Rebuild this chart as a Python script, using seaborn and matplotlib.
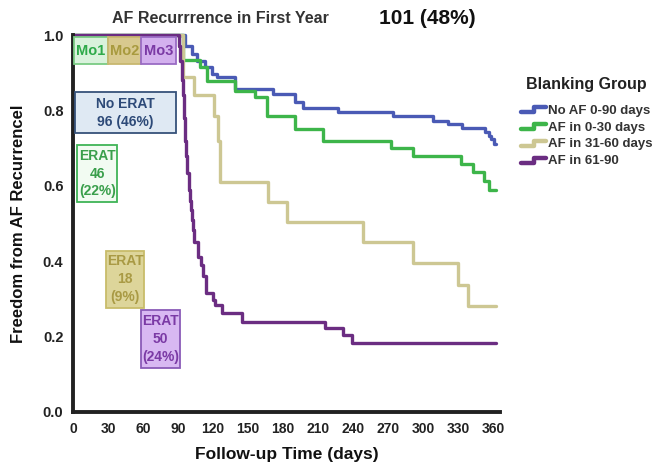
import numpy as np
import pandas as pd
import seaborn as sns
import matplotlib
matplotlib.use('Agg')
import matplotlib.pyplot as plt
from matplotlib.patches import Rectangle
from matplotlib.lines import Line2D
from matplotlib.legend_handler import HandlerBase

# Kaplan-Meier style step data (day, freedom from AF)
groups = ['No AF 0-90 days', 'AF in 0-30 days', 'AF in 31-60 days', 'AF in 61-90']
colors = ['#4a5ab5', '#3db54a', '#cdc793', '#6b2d82']

blue_days = [0, 96, 102, 106, 113, 119, 123, 139, 171, 190, 197, 227, 274, 308, 321, 333, 353, 356, 358, 361, 362]
blue_vals = [1.0, 0.971, 0.949, 0.931, 0.915, 0.896, 0.888, 0.856, 0.843, 0.822, 0.806, 0.795, 0.785, 0.771,
             0.763, 0.753, 0.742, 0.731, 0.723, 0.71, 0.71]

green_days = [0, 94, 109, 115, 139, 156, 166, 190, 214, 272, 291, 332, 343, 352, 356, 362]
green_vals = [1.0, 0.935, 0.915, 0.877, 0.851, 0.835, 0.785, 0.75, 0.72, 0.70, 0.678, 0.657, 0.636, 0.612,
              0.59, 0.59]

tan_days = [0, 94, 104, 121, 124, 126, 167, 183, 248, 291, 330, 338, 362]
tan_vals = [1.0, 0.89, 0.84, 0.785, 0.72, 0.61, 0.556, 0.505, 0.45, 0.394, 0.338, 0.28, 0.28]

purple_days = [0, 91, 92, 93, 94, 95, 96, 97, 98, 99, 100, 101, 102, 103, 104, 107, 110, 111, 114, 120,
               122, 128, 145, 216, 231, 239, 362]
purple_vals = [1.0, 0.97, 0.93, 0.88, 0.84, 0.78, 0.72, 0.68, 0.635, 0.59, 0.56, 0.537, 0.51, 0.484, 0.45,
               0.412, 0.39, 0.36, 0.316, 0.298, 0.285, 0.263, 0.239, 0.223, 0.205, 0.184, 0.184]

x_ticks = [0, 30, 60, 90, 120, 150, 180, 210, 240, 270, 300, 330, 360]
y_ticks = [0.0, 0.2, 0.4, 0.6, 0.8, 1.0]

df = pd.concat([
    pd.DataFrame({'day': d, 'freedom': v, 'group': g})
    for d, v, g in zip([blue_days, green_days, tan_days, purple_days],
                       [blue_vals, green_vals, tan_vals, purple_vals], groups)
], ignore_index=True)

sns.set_style('white')
plt.rcParams['font.family'] = ['Liberation Sans', 'DejaVu Sans']
plt.rcParams['font.weight'] = 'bold'

fig = plt.figure(figsize=(6.59, 4.74), dpi=100)
ax = fig.add_axes([0.111, 0.131, 0.648, 0.795])

sns.lineplot(data=df, x='day', y='freedom', hue='group', hue_order=groups,
             palette=dict(zip(groups, colors)), drawstyle='steps-post',
             estimator=None, linewidth=2.4, legend=False, ax=ax, clip_on=False)

ax.set_xlim(0, 366)
ax.set_ylim(0, 1.0)
ax.set_xticks(x_ticks)
ax.set_yticks(y_ticks)
ax.set_yticklabels([f'{t:.1f}' for t in y_ticks])
ax.tick_params(axis='x', labelsize=10, length=5, width=1.2, color='#333', pad=2)
ax.tick_params(axis='y', labelsize=10.5, length=5, width=1.2, color='#333', pad=2)
for lab in ax.get_xticklabels() + ax.get_yticklabels():
    lab.set_fontweight('bold')
    lab.set_color('#222')

sns.despine(ax=ax)
for side in ['left', 'bottom']:
    ax.spines[side].set_linewidth(2.8)
    ax.spines[side].set_color('#222')

ax.set_xlabel('Follow-up Time (days)', fontsize=12.5, fontweight='bold', color='#111', labelpad=8)
ax.set_ylabel('Freedom from AF Recurrencel', fontsize=12, fontweight='bold', color='#111', labelpad=12)

# titles
fig.text(0.335, 0.96, 'AF Recurrrence in First Year', fontsize=11.5, fontweight='bold',
         color='#333', ha='center', va='center')
fig.text(0.649, 0.96, '101 (48%)', fontsize=15, fontweight='bold', color='#111',
         ha='center', va='center')


def add_box(x0, x1, y0, y1, text, face, edge, tcolor, fs=10):
    ax.add_patch(Rectangle((x0, y0), x1 - x0, y1 - y0, facecolor=face, edgecolor=edge,
                           linewidth=1.3, clip_on=False, zorder=3))
    ax.text((x0 + x1) / 2, (y0 + y1) / 2, text, ha='center', va='center', fontsize=fs,
            fontweight='bold', color=tcolor, linespacing=1.35, zorder=4)


add_box(0.5, 30, 0.923, 0.995, 'Mo1', '#d9f2dc', '#7acb84', '#2eaa4a', 10.5)
add_box(30, 58, 0.923, 0.995, 'Mo2', '#d8c98e', '#c8b870', '#a89a3e', 10.5)
add_box(58, 88, 0.923, 0.995, 'Mo3', '#d3b0ee', '#9a6cc4', '#7b3aa5', 10.5)
add_box(2, 88, 0.739, 0.848, 'No ERAT\n96 (46%)', '#dfe9f3', '#36527a', '#2d4a78')
add_box(3.5, 38, 0.558, 0.707, 'ERAT\n46\n(22%)', '#f2fbf2', '#3fb456', '#3a9f4c')
add_box(28, 61, 0.277, 0.428, 'ERAT\n18\n(9%)', '#ddd59a', '#c8bc6a', '#a99a44')
add_box(58, 92, 0.117, 0.271, 'ERAT\n50\n(24%)', '#d8b8f2', '#8a5ab8', '#7b3aa5')


class StepHandler(HandlerBase):
    def create_artists(self, legend, orig_handle, xdescent, ydescent, width, height, fontsize, trans):
        xs = np.array([0, 0.55, 0.55, 1.0]) * width - xdescent
        ys = np.array([0.15, 0.15, 0.7, 0.7]) * height - ydescent
        line = Line2D(xs, ys, color=orig_handle.get_color(), linewidth=3.2, transform=trans)
        return [line]


handles = [Line2D([], [], color=c) for c in colors]
leg = fig.legend(handles, groups, title='Blanking Group', loc='upper left',
                 bbox_to_anchor=(0.776, 0.857), frameon=False, fontsize=9.5,
                 title_fontproperties={'weight': 'bold', 'size': 11.5},
                 handler_map={Line2D: StepHandler()}, handlelength=1.9, handletextpad=0.15,
                 labelspacing=0.35, borderpad=0.2)
leg._legend_box.sep = 9
for t in leg.get_texts():
    t.set_fontweight('bold')
    t.set_color('#333')
leg.get_title().set_color('#222')

fig.savefig('out.png', dpi=100)
